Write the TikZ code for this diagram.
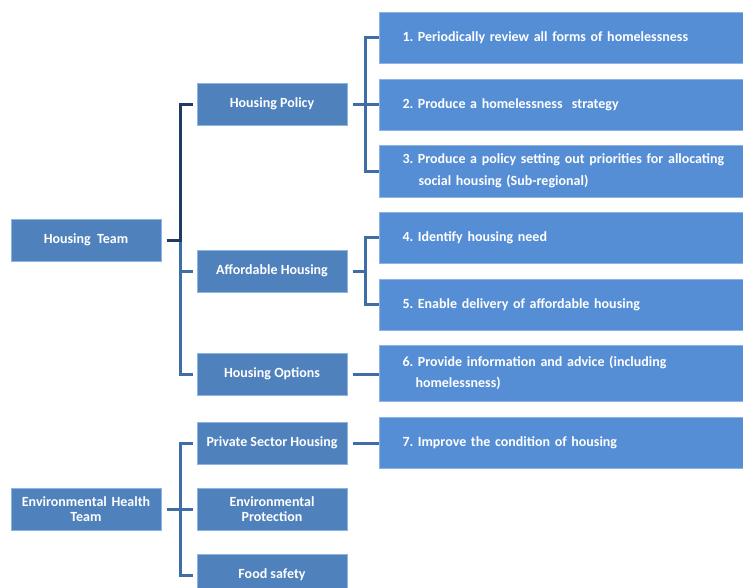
\documentclass[tikz,border=0pt]{standalone}
\usepackage{fontspec}
\setmainfont{Carlito}
\usetikzlibrary{calc}
\definecolor{leftfill}{HTML}{4F81BD}
\definecolor{rightfill}{HTML}{558ED5}
\definecolor{boxline}{HTML}{8DB4E2}
\definecolor{darkline}{HTML}{1F3B63}
\definecolor{medline}{HTML}{3F6EA6}
\newcommand{\tasknum}[1]{#1.\hspace{-2.5pt} }
\tikzset{
  x=1pt, y=-1pt,
  unitbox/.style={fill=leftfill, draw=boxline, line width=1pt, minimum width=150pt, minimum height=42pt,
    text=white, font=\bfseries\fontsize{14}{15.5}\selectfont, align=center, inner sep=1pt},
  taskbox/.style={fill=rightfill, draw=boxline, line width=1pt, minimum width=372pt, anchor=west,
    text=white, font=\bfseries\fontsize{14}{21.5}\selectfont, align=left, text width=345pt, inner xsep=23pt},
  conn/.style={line width=3pt, medline},
  darkconn/.style={line width=3pt, darkline},
}
\begin{document}
\begin{tikzpicture}
\useasboundingbox (0,0) rectangle (743,587);
% left column
\node[unitbox] (ht) at (86,240) {Housing~~Team};
\node[unitbox, text width=148pt, inner sep=0pt] (eht) at (86,509) {Environmental Health\\Team};
% middle column
\node[unitbox] (hp) at (272,104) {Housing Policy};
\node[unitbox] (ah) at (272,271) {Affordable Housing};
\node[unitbox] (ho) at (272,374) {Housing Options};
\node[unitbox] (psh) at (272,443) {Private Sector Housing};
\node[unitbox] (ep) at (272,509) {Environmental\\Protection};
\node[unitbox] (fs) at (272,575) {Food safety};
% right column
\node[taskbox, minimum height=51pt] (t1) at (379,37.5) {\tasknum{1}Periodically review all forms of homelessness};
\node[taskbox, minimum height=51pt] (t2) at (379,104.5) {\tasknum{2}Produce a homelessness~ strategy};
\node[taskbox, minimum height=52pt] (t3) at (379,171) {\tasknum{3}Produce a policy setting out priorities for allocating\\\hspace*{16pt}social housing (Sub-regional)};
\node[taskbox, minimum height=51pt] (t4) at (379,237.5) {\tasknum{4}Identify housing need};
\node[taskbox, minimum height=51pt] (t5) at (379,304.5) {\tasknum{5}Enable delivery of affordable housing};
\node[taskbox, minimum height=56pt] (t6) at (379,373) {\tasknum{6}Provide information and advice (including\\\hspace*{13pt}homelessness)};
\node[taskbox, minimum height=51pt] (t7) at (379,442.5) {\tasknum{7}Improve the condition of housing};
% connectors: Housing Team
\coordinate (htt) at ($(ht.east)+(19,0)$);
\draw[conn] (htt) |- ([xshift=-4pt]ho.west);
\draw[conn] (htt |- ah.west) -- ([xshift=-4pt]ah.west);
\draw[darkconn] ([xshift=5pt]ht.east) -- (htt) |- ([xshift=-4pt]hp.west);
% Environmental Health Team
\coordinate (ehtt) at ($(eht.east)+(19,0)$);
\draw[conn] ([xshift=-4pt]psh.west) -| (ehtt) |- ([xshift=-4pt]fs.west);
\draw[conn] ([xshift=5pt]eht.east) -- ([xshift=-4pt]ep.west);
% Housing Policy
\coordinate (hpt) at ($(hp.east)+(18,0)$);
\draw[conn] (t1.west) -| (hpt) |- (t3.west);
\draw[conn] ([xshift=5pt]hp.east) -- (t2.west |- hp.east);
% Affordable Housing
\coordinate (aht) at ($(ah.east)+(18,0)$);
\draw[conn] (t4.west) -| (aht) |- (t5.west);
\draw[conn] ([xshift=5pt]ah.east) -- (aht);
% Housing Options, Private Sector Housing
\draw[conn] ([xshift=5pt]ho.east) -- (t6.west |- ho.east);
\draw[conn] ([xshift=5pt]psh.east) -- (t7.west |- psh.east);
\end{tikzpicture}
\end{document}
